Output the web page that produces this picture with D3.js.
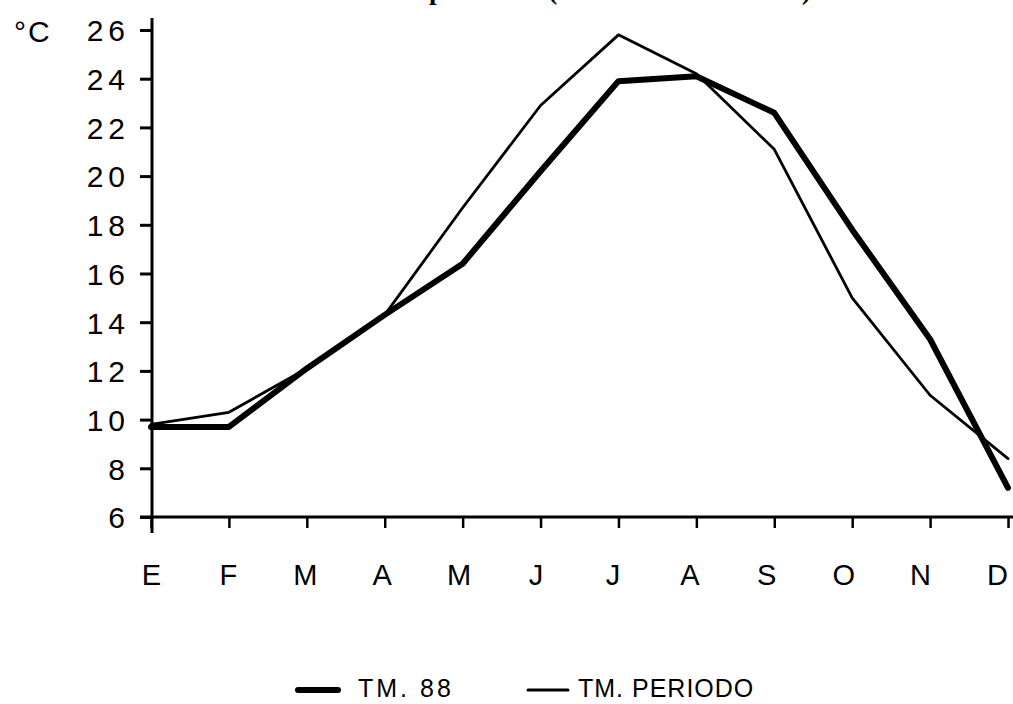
<!DOCTYPE html>
<html>
<head>
<meta charset="utf-8">
<script src="https://cdn.jsdelivr.net/npm/d3@7"></script>
<style>
  html, body { margin: 0; padding: 0; background: #fff; }
  svg { display: block; }
  text { font-family: "Liberation Sans", "DejaVu Sans", sans-serif; fill: #000; }
</style>
</head>
<body>
<svg id="chart" width="1013" height="704"></svg>
<script>
// ---- data ----
const months = ["E", "F", "M", "A", "M", "J", "J", "A", "S", "O", "N", "D"];
const tm88 = [9.7, 9.7, 12.1, 14.3, 16.4, 20.2, 23.9, 24.1, 22.6, 17.8, 13.3, 7.2];
const tmPeriodo = [9.8, 10.3, 12.1, 14.3, 18.7, 22.9, 25.8, 24.2, 21.1, 15.0, 11.0, 8.4];
const yTicks = [6, 8, 10, 12, 14, 16, 18, 20, 22, 24, 26];
const yUnit = "°C";
const legendLabels = ["TM. 88", "TM. PERIODO"];
const titleText = "Temperaturas (Madrid - Retiro 1988)";

// ---- chart ----
const svg = d3.select("#chart");
const x = d3.scaleLinear().domain([0, months.length - 1]).range([151, 1008]);
const y = d3.scaleLinear().domain([6, 26]).range([517, 30]);

// title (mostly cut off at the top, as in the reference)
svg.append("text")
  .attr("x", 379).attr("y", -1)
  .style("font-family", "'Liberation Serif', serif")
  .style("font-weight", "bold")
  .style("font-size", "27px")
  .text(titleText);

// y axis
const yAxis = svg.append("g")
  .attr("transform", "translate(152,0)")
  .call(d3.axisLeft(y).tickValues(yTicks).tickSize(12).tickPadding(10).tickFormat(d3.format("d")));
yAxis.select(".domain").remove();
yAxis.selectAll(".tick line").attr("stroke", "#000").attr("stroke-width", 3);
yAxis.selectAll(".tick text")
  .style("font-size", "30px")
  .style("letter-spacing", "5px")
  .attr("dy", "0.36em");

svg.append("line")
  .attr("x1", 152).attr("x2", 152).attr("y1", 18).attr("y2", 533)
  .attr("stroke", "#000").attr("stroke-width", 3);

// x axis
const xAxis = svg.append("g")
  .attr("transform", "translate(0,517)")
  .call(d3.axisBottom(x).tickValues(d3.range(months.length)).tickSize(11).tickPadding(36)
        .tickFormat(i => months[i]));
xAxis.select(".domain").remove();
xAxis.selectAll(".tick line").attr("stroke", "#000").attr("stroke-width", 2.5);
xAxis.selectAll(".tick text")
  .style("font-size", "29px")
  .attr("dx", (d, i) => -i);

svg.append("line")
  .attr("x1", 140).attr("x2", 1013).attr("y1", 517).attr("y2", 517)
  .attr("stroke", "#000").attr("stroke-width", 3);

// unit label
svg.append("text")
  .attr("x", 14).attr("y", 42)
  .style("font-size", "30px")
  .style("letter-spacing", "2px")
  .text(yUnit);

// lines
const line = d3.line().x((d, i) => x(i)).y(d => y(d));
svg.append("path").datum(tmPeriodo)
  .attr("d", line).attr("fill", "none").attr("stroke", "#000")
  .attr("stroke-width", 2.8).attr("stroke-linejoin", "round").attr("stroke-linecap", "round");
svg.append("path").datum(tm88)
  .attr("d", line).attr("fill", "none").attr("stroke", "#000")
  .attr("stroke-width", 6).attr("stroke-linejoin", "round").attr("stroke-linecap", "round");

// legend
const legend = [
  {label: legendLabels[0], w: 6, x1: 298, tx: 358, ls: 3},
  {label: legendLabels[1], w: 3, x1: 528, tx: 578, ls: 1}
];
const lg = svg.append("g");
legend.forEach(l => {
  lg.append("line").attr("x1", l.x1).attr("x2", l.x1 + 40).attr("y1", 690).attr("y2", 690)
    .attr("stroke", "#000").attr("stroke-width", l.w).attr("stroke-linecap", "round");
  lg.append("text").attr("x", l.tx).attr("y", 697)
    .style("font-size", "25px").style("letter-spacing", l.ls + "px").text(l.label);
});
</script>
</body>
</html>
